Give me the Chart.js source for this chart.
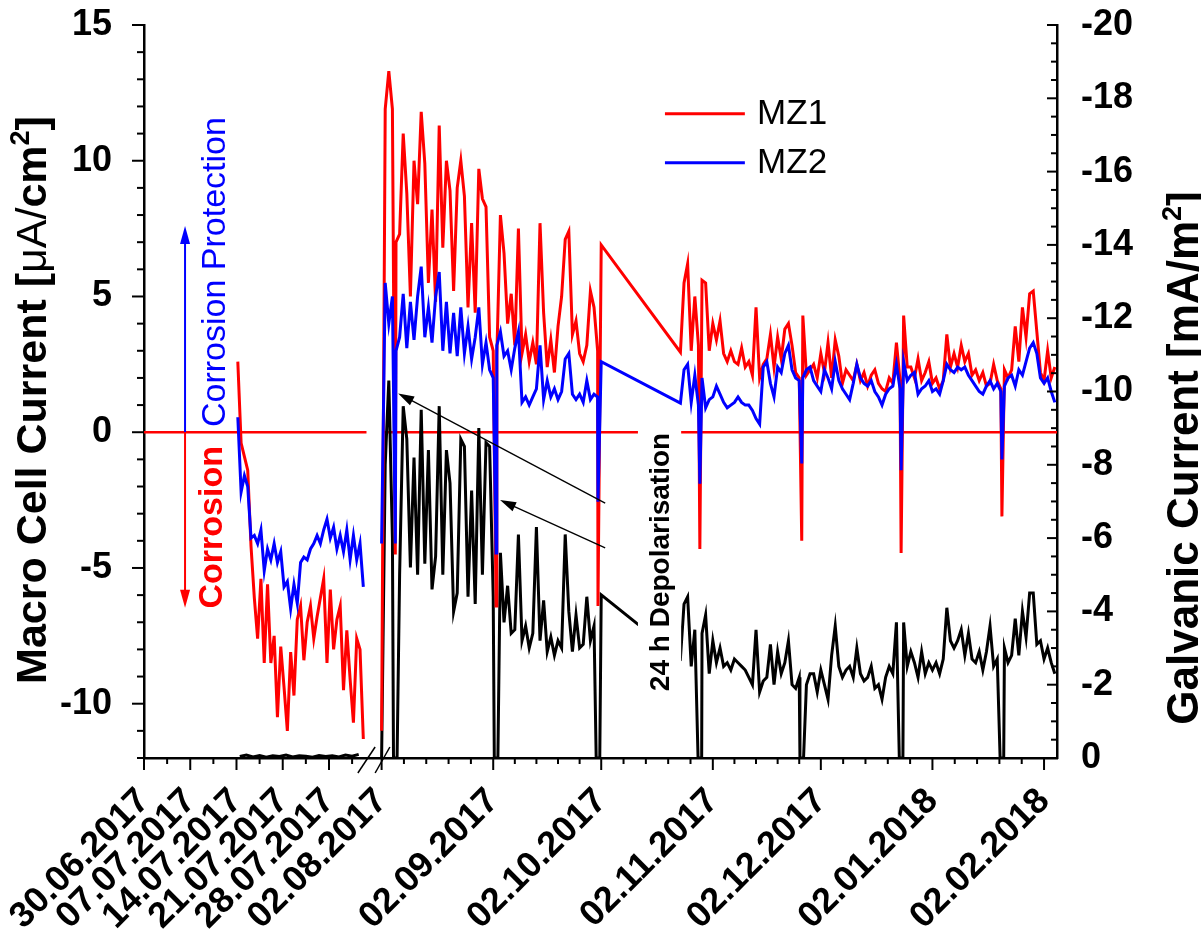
<!DOCTYPE html>
<html>
<head>
<meta charset="utf-8">
<script src="https://cdn.jsdelivr.net/npm/chart.js@4.4.0/dist/chart.umd.min.js"></script>
<style>html,body{margin:0;padding:0;background:#fff;}</style>
</head>
<body>
<canvas id="myChart" width="1201" height="934"></canvas>
<script>
// ---- July 2017 part, days counted from 30.06.2017
var leftStartDay = 14.2, leftStep = 0.5;
var leftMZ1 = [2.6, -0.4, -0.9, -1.4, -4.2, -6.1, -7.6, -5.4, -8.5, -5.6,
  -8.5, -7.5, -10.5, -7.9, -9.4, -11.0, -8.1, -9.7, -6.9, -6.4,
  -8.4, -7.0, -6.4, -7.6, -6.8, -6.1, -5.4, -8.5, -5.8, -8.0,
  -6.9, -6.4, -9.5, -7.3, -9.1, -10.7, -7.6, -8.0, -11.3];
var leftMZ2 = [0.55, -2.2, -1.6, -2.0, -3.9, -3.8, -4.1, -3.6, -5.1, -4.3,
  -4.7, -4.1, -4.8, -4.4, -5.7, -5.5, -6.5, -5.6, -6.3, -4.8,
  -4.6, -4.7, -4.3, -4.1, -3.8, -4.1, -3.6, -3.2, -3.9, -3.5,
  -4.3, -3.8, -4.4, -3.6, -4.7, -3.8, -4.7, -4.1, -5.7];
var leftGalvStart = 14.5, leftGalvStep = 1;
var leftGalv = [-0.04, -0.08, -0.03, -0.07, -0.02, -0.06, -0.04, -0.08, -0.03, -0.06,
  -0.05, -0.02, -0.07, -0.04, -0.06, -0.03, -0.08, -0.05, -0.1];

// ---- from 02.08.2017, one value per day (day 0 = 02.08.2017)
var augStartDay = 0;
var augMZ1 = [-11.0, 11.9, 13.3, 11.9, 7.0, 7.3, 11.0, 8.8, 5.0, 10.0,
  8.4, 11.8, 9.9, 5.5, 8.2, 4.8, 11.3, 6.8, 10.0, 8.9,
  5.2, 9.0, 10.0, 8.7, 4.6, 7.7, 4.4, 9.7, 8.6, 8.3,
  3.5, 3.0, 2.8, 8.0, 6.6, 4.0, 5.1, 3.2, 7.5, 2.9,
  3.6, 2.6, 3.3, 2.5, 7.7, 4.4, 2.4, 3.4, 2.2, 3.9,
  5.0, 7.1, 7.4, 3.6, 4.1, 2.9, 2.6, 3.2, 5.2, 4.6,
  3.0, 6.9];
var augMZ2 = [-4.1, 5.5, 4.0, 5.0, 3.0, 3.5, 5.1, 3.1, 4.8, 3.4,
  5.0, 6.1, 3.5, 4.6, 3.3, 5.0, 5.9, 3.0, 4.8, 2.9,
  4.4, 2.8, 4.6, 2.9, 3.9, 2.7, 3.5, 4.6, 2.5, 3.3,
  2.3, 2.0, 3.2, 3.7, 2.8, 3.0, 2.3, 3.1, 3.7, 1.1,
  1.3, 1.0, 1.3, 1.6, 3.2, 1.2, 1.9, 1.3, 1.6, 1.2,
  1.5, 2.7, 2.9, 1.4, 1.2, 1.4, 1.1, 1.9, 1.2, 1.4,
  1.3, 2.6];
var augGalv = [0, -8.0, -10.3, -6.0, -5.0, -5.0, -9.6, -8.7, -5.2, -8.2,
  -5.0, -9.5, -5.3, -8.4, -4.6, -5.5, -9.6, -5.0, -8.4, -7.5,
  -4.0, -4.5, -8.7, -8.5, -4.4, -7.3, -4.2, -9.0, -5.0, -8.6,
  -8.5, -4.4, -4.0, -5.6, -3.7, -4.7, -3.4, -3.5, -6.1, -3.2,
  -3.6, -3.0, -3.4, -6.3, -3.2, -4.3, -2.9, -3.3, -2.8, -3.2,
  -3.0, -6.1, -4.0, -2.9, -3.9, -3.0, -3.1, -4.4, -3.2, -3.6,
  -3.0, -4.45];

// ---- end of October 2017 to February 2018 (first value = day 83)
var novStartDay = 83;
var novMZ1 = [2.95, 5.5, 6.2, 3.0, 5.0, 3.2, 5.6, 5.5, 3.0, 4.0,
  3.4, 4.1, 2.9, 2.6, 3.0, 2.6, 2.5, 3.1, 2.4, 2.6,
  2.1, 4.6, 2.0, 2.5, 2.7, 3.6, 2.4, 3.5, 2.7, 3.8,
  4.0, 3.2, 2.2, 2.0, 4.3, 2.1, 2.3, 2.5, 2.0, 2.9,
  2.2, 3.3, 2.0, 3.4, 2.8, 1.8, 2.3, 2.1, 1.9, 2.5,
  1.9, 2.2, 1.7, 2.1, 2.3, 1.8, 1.6, 1.5, 2.0, 1.8,
  3.3, 1.9, 4.3, 2.4, 2.4, 2.0, 2.7, 1.9, 2.2, 2.6,
  1.8, 2.0, 1.6, 1.9, 3.6, 2.4, 2.9, 2.4, 3.2, 2.6,
  2.9, 2.1, 2.3, 1.9, 2.2, 1.7, 1.8, 2.5, 1.9, 1.6,
  2.3, 2.0, 2.3, 3.9, 2.6, 4.6, 3.5, 5.1, 5.2, 3.7,
  2.2, 1.9, 3.0, 2.0, 2.4];
var novMZ2 = [1.07, 2.3, 2.5, 1.1, 2.1, 1.0, 2.0, 0.9, 1.2, 1.3,
  1.7, 1.4, 1.1, 0.9, 1.0, 1.1, 1.3, 1.1, 1.0, 1.0,
  0.8, 0.5, 0.3, 2.4, 2.6, 1.8, 1.3, 2.4, 2.2, 2.9,
  3.2, 2.3, 2.0, 1.9, 2.0, 2.3, 2.4, 1.9, 1.7, 1.5,
  2.3, 2.0, 1.6, 2.6, 1.9, 1.6, 1.4, 1.2, 1.8, 2.5,
  2.0, 1.8, 1.7, 1.9, 1.5, 1.3, 1.0, 1.4, 1.6, 1.7,
  2.5, 1.6, 2.6, 1.9, 2.1, 2.2, 1.4, 1.6, 1.7, 1.9,
  1.5, 1.6, 1.4, 1.9, 2.5, 2.3, 2.2, 2.4, 2.3, 2.4,
  2.1, 1.9, 1.7, 1.5, 1.4, 1.7, 1.9, 1.6, 1.8, 1.5,
  1.7, 2.0, 2.1, 1.7, 2.3, 2.1, 2.6, 3.1, 3.3, 2.9,
  2.0, 1.8, 2.0, 1.5, 1.1];
var novGalv = [-2.72, -4.2, -4.4, -2.5, -3.5, -2.8, -3.4, -3.9, -2.3, -3.2,
  -2.6, -3.0, -2.5, -2.6, -2.4, -2.7, -2.6, -2.5, -2.4, -2.2,
  -2.0, -3.5, -1.8, -2.1, -2.2, -3.1, -2.0, -2.9, -2.3, -2.6,
  -3.2, -2.0, -1.9, -2.2, -3.1, -2.0, -2.3, -2.3, -1.8, -2.4,
  -2.0, -1.6, -2.8, -3.6, -2.5, -2.2, -2.4, -2.5, -2.2, -3.0,
  -2.3, -2.1, -2.2, -2.5, -1.9, -2.0, -1.6, -2.2, -2.5, -2.3,
  -3.7, -2.6, -3.7, -2.5, -2.9, -2.6, -2.2, -2.9, -2.3, -2.6,
  -2.4, -2.6, -2.3, -2.7, -4.1, -3.2, -3.0, -3.2, -3.5, -2.8,
  -3.4, -2.7, -2.6, -2.9, -2.4, -2.9, -3.6, -2.5, -2.7, -2.5,
  -3.0, -2.6, -2.8, -3.8, -2.8, -4.0, -3.3, -4.5, -4.5, -3.1,
  -3.2, -2.7, -3.0, -2.6, -2.3];

// ---- 24 h depolarisation (day since 02.08.2017, lowest macro cell currents)
var depolDays = [3.3, 31.3, 59.6, 87.9, 116.2, 143.8, 171.8];
var depolMZ1 = [-4.5, -6.4, -6.4, -4.3, -4.0, -4.45, -3.1];
var depolMZ2 = [-4.1, -4.45, -2.56, -1.9, -1.15, -1.4, -1.0];

// ---- axes
var leftTickDays = [0, 7, 14, 21, 28];
var leftTickLabels = ['30.06.2017', '07.07.2017', '14.07.2017', '21.07.2017', '28.07.2017'];
var rightTickDays = [0, 31, 61, 92, 122, 153, 184];
var rightTickLabels = ['02.08.2017', '02.09.2017', '02.10.2017', '02.11.2017', '02.12.2017', '02.01.2018', '02.02.2018'];
var macroTicks = [-10, -5, 0, 5, 10, 15];
var galvTicks = [0, -2, -4, -6, -8, -10, -12, -14, -16, -18, -20];

// broken time axis: July part is stretched, the rest is one unit per day
var leftScale = 1.835, rightOffset = 66, xEnd = 253.6;
function uLeft(day) { return day * leftScale; }
function uRight(day) { return rightOffset + day; }

var FONT = "'Liberation Sans', Arial, sans-serif";

function buildSeries(leftVals, lStart, lStep, augVals, novVals, depolMin, galv) {
  var pts = [];
  leftVals.forEach(function (v, i) { pts.push({ x: uLeft(lStart + i * lStep), y: v }); });
  pts.push({ x: (uLeft(lStart + leftVals.length * lStep) + rightOffset) / 2, y: null });
  var right = [];
  augVals.forEach(function (v, i) { right.push({ d: augStartDay + i, y: v }); });
  novVals.forEach(function (v, i) { right.push({ d: novStartDay + i, y: v }); });
  depolDays.forEach(function (ds, k) {
    if (galv) {
      right = right.filter(function (p) { return p.d < ds || p.d > ds + 1; });
      right.push({ d: ds, y: 0 });
      right.push({ d: ds + 1, y: 0 });
    } else {
      right.push({ d: ds + 0.5, y: depolMin[k] });
    }
  });
  right.sort(function (a, b) { return a.d - b.d; });
  right.forEach(function (p) { pts.push({ x: uRight(p.d), y: p.y }); });
  return pts;
}

var mz1Data = buildSeries(leftMZ1, leftStartDay, leftStep, augMZ1, novMZ1, depolMZ1, false);
var mz2Data = buildSeries(leftMZ2, leftStartDay, leftStep, augMZ2, novMZ2, depolMZ2, false);
var galvData = buildSeries(leftGalv, leftGalvStart, leftGalvStep, augGalv, novGalv, null, true);

var xTickValues = leftTickDays.map(uLeft).concat(rightTickDays.map(uRight));
var xTickLabels = leftTickLabels.concat(rightTickLabels);

function line(ctx, x1, y1, x2, y2) {
  ctx.beginPath(); ctx.moveTo(x1, y1); ctx.lineTo(x2, y2); ctx.stroke();
}

function arrow(ctx, x1, y1, x2, y2, head, width, color) {
  var a = Math.atan2(y2 - y1, x2 - x1);
  ctx.strokeStyle = color; ctx.fillStyle = color;
  line(ctx, x1, y1, x2 - Math.cos(a) * head * 0.8, y2 - Math.sin(a) * head * 0.8);
  ctx.beginPath();
  ctx.moveTo(x2, y2);
  ctx.lineTo(x2 - Math.cos(a) * head + Math.sin(a) * width, y2 - Math.sin(a) * head - Math.cos(a) * width);
  ctx.lineTo(x2 - Math.cos(a) * head - Math.sin(a) * width, y2 - Math.sin(a) * head + Math.cos(a) * width);
  ctx.closePath(); ctx.fill();
}

// text pieces written one after the other, rotated round their centre
function richText(ctx, parts, cx, cy, angle, size) {
  ctx.save();
  ctx.translate(cx, cy); ctx.rotate(angle);
  var total = 0;
  parts.forEach(function (p) { ctx.font = p.font; p.w = ctx.measureText(p.t).width; total += p.w; });
  var x = -total / 2;
  ctx.textAlign = 'left'; ctx.textBaseline = 'alphabetic';
  parts.forEach(function (p) {
    ctx.font = p.font; ctx.fillStyle = p.color || '#000';
    ctx.fillText(p.t, x, size * 0.36 + (p.dy || 0));
    x += p.w;
  });
  ctx.restore();
}

var decorPlugin = {
  id: 'decor',
  beforeDatasetsDraw: function (chart) {
    var ctx = chart.ctx, xs = chart.scales.x, ys = chart.scales.y, a = chart.chartArea;
    var y0 = ys.getPixelForValue(0);
    ctx.save();
    ctx.strokeStyle = '#ff0000'; ctx.lineWidth = 2.5;
    line(ctx, a.left, y0, xs.getPixelForValue(61.8), y0);
    line(ctx, xs.getPixelForValue(66.2), y0, a.right, y0);
    ctx.restore();
  },
  afterDatasetsDraw: function (chart) {
    var ctx = chart.ctx, xs = chart.scales.x, ys = chart.scales.y, y2 = chart.scales.y2, a = chart.chartArea;
    var X = function (u) { return xs.getPixelForValue(u); };
    var Y = function (v) { return ys.getPixelForValue(v); };
    ctx.save();
    ctx.strokeStyle = '#000'; ctx.lineWidth = 2;

    // x ticks (outside)
    xTickValues.forEach(function (u) { line(ctx, X(u), a.bottom, X(u), a.bottom + 12); });
    [3.5, 10.5, 17.5, 24.5, 31.5].forEach(function (d) { line(ctx, X(uLeft(d)), a.bottom, X(uLeft(d)), a.bottom + 6); });
    for (var i = 0; i < rightTickDays.length - 1; i++) {
      for (var f = 1; f < 5; f++) {
        var u = uRight(rightTickDays[i] + (rightTickDays[i + 1] - rightTickDays[i]) * f / 5);
        line(ctx, X(u), a.bottom, X(u), a.bottom + 6);
      }
    }
    // left y ticks (outside)
    for (var v = -12; v <= 15; v++) {
      var len = (v % 5 === 0) ? 12 : 7;
      line(ctx, a.left - len, Y(v), a.left, Y(v));
    }
    // right y ticks (inside)
    for (var g = -20; g <= 0; g += 0.5) {
      var gl = (Math.abs(g % 2) < 1e-6) ? 10 : 6;
      var py = y2.getPixelForValue(g);
      line(ctx, a.right - gl, py, a.right, py);
    }

    // axis break marks
    ctx.lineWidth = 1.5;
    line(ctx, X(59.4), a.bottom + 15, X(64.2), a.bottom - 11);
    line(ctx, X(64.2), a.bottom + 15, X(68.3), a.bottom - 11);

    // legend
    ctx.lineWidth = 3;
    ctx.strokeStyle = '#ff0000'; line(ctx, X(144.7), Y(11.73), X(166.9), Y(11.73));
    ctx.strokeStyle = '#0000ff'; line(ctx, X(144.7), Y(9.93), X(166.9), Y(9.93));
    ctx.fillStyle = '#000'; ctx.font = '35px ' + FONT;
    ctx.textAlign = 'left'; ctx.textBaseline = 'middle';
    ctx.fillText('MZ1', X(170.3), Y(11.73) + 1);
    ctx.fillText('MZ2', X(170.3), Y(9.93) + 1);

    // corrosion / protection arrows and labels
    ctx.lineWidth = 2;
    arrow(ctx, X(11.4), Y(0), X(11.4), Y(7.6), 18, 5, '#0000ff');
    arrow(ctx, X(11.4), Y(0), X(11.4), Y(-6.47), 18, 5, '#ff0000');
    richText(ctx, [{ t: 'Corrosion Protection', font: '34px ' + FONT, color: '#0000ff' }],
      X(19.2), Y(5.9), -Math.PI / 2, 34);
    richText(ctx, [{ t: 'Corrosion', font: 'bold 34px ' + FONT, color: '#ff0000' }],
      X(18.3), Y(-3.5), -Math.PI / 2, 34);

    // 24 h depolarisation pointers
    ctx.lineWidth = 1.3;
    arrow(ctx, X(128.1), Y(-2.61), X(70.6), Y(1.43), 16, 5, '#000');
    arrow(ctx, X(128.1), Y(-4.26), X(98.9), Y(-2.5), 16, 5, '#000');
    ctx.fillStyle = '#fff';
    ctx.fillRect(X(137.2), Y(0.07), X(149.2) - X(137.2), Y(-9.67) - Y(0.07));
    richText(ctx, [{ t: '24 h Depolarisation', font: 'bold 28px ' + FONT }],
      X(143.1), Y(-4.78), -Math.PI / 2, 28);

    // axis titles
    richText(ctx, [
      { t: 'Macro Cell Current [', font: 'bold 43px ' + FONT },
      { t: '\u03bcA/', font: '43px ' + FONT },
      { t: 'cm', font: 'bold 43px ' + FONT },
      { t: '2', font: 'bold 27px ' + FONT, dy: -17 },
      { t: ']', font: 'bold 43px ' + FONT }
    ], 31, 400, -Math.PI / 2, 43);
    richText(ctx, [
      { t: 'Galvanic Current [mA/m', font: 'bold 44px ' + FONT },
      { t: '2', font: 'bold 27px ' + FONT, dy: -17 },
      { t: ']', font: 'bold 44px ' + FONT }
    ], 1182, 458, -Math.PI / 2, 44);
    ctx.restore();
  }
};

var tickFont = { family: FONT, size: 36, weight: 'bold' };

// the vertical axes keep their own label overhang out of the layout
function fixVertical(s) { s.width = 144; s.paddingTop = 0; s.paddingBottom = 0; }

var ctx = document.getElementById('myChart').getContext('2d');
var myNewChart = new Chart(ctx, {
  type: 'line',
  data: {
    datasets: [
      { label: 'MZ2', data: mz2Data, borderColor: '#0000ff', borderWidth: 3, yAxisID: 'y' },
      { label: 'MZ1', data: mz1Data, borderColor: '#ff0000', borderWidth: 3, yAxisID: 'y' },
      { label: 'Galvanic', data: galvData, borderColor: '#000000', borderWidth: 3, yAxisID: 'y2' }
    ]
  },
  options: {
    responsive: false,
    devicePixelRatio: 1,
    animation: false,
    events: [],
    spanGaps: false,
    elements: { point: { radius: 0 }, line: { tension: 0, fill: false, borderJoinStyle: 'miter' } },
    layout: { padding: { top: 25, left: 0, right: 0, bottom: 0 } },
    plugins: { legend: { display: false }, tooltip: { enabled: false } },
    scales: {
      x: {
        type: 'linear', min: 0, max: xEnd,
        afterBuildTicks: function (s) { s.ticks = xTickValues.map(function (v) { return { value: v }; }); },
        afterFit: function (s) { s.height = 176; s.paddingLeft = 0; s.paddingRight = 0; },
        grid: { display: false },
        border: { display: true, color: '#000', width: 2.5 },
        ticks: {
          autoSkip: false, minRotation: 45, maxRotation: 45, padding: 14,
          color: '#000', font: tickFont,
          callback: function (v, i) { return xTickLabels[i]; }
        }
      },
      y: {
        position: 'left', min: -12, max: 15,
        afterBuildTicks: function (s) { s.ticks = macroTicks.map(function (v) { return { value: v }; }); },
        afterFit: fixVertical,
        grid: { display: false },
        border: { display: true, color: '#000', width: 2.5 },
        ticks: { padding: 24, color: '#000', font: tickFont }
      },
      y2: {
        position: 'right', min: -20, max: 0, reverse: true,
        afterBuildTicks: function (s) { s.ticks = galvTicks.map(function (v) { return { value: v }; }); },
        afterFit: fixVertical,
        grid: { display: false },
        border: { display: true, color: '#000', width: 2.5 },
        ticks: { padding: 16, color: '#000', font: tickFont }
      }
    }
  },
  plugins: [decorPlugin]
});
</script>
</body>
</html>
